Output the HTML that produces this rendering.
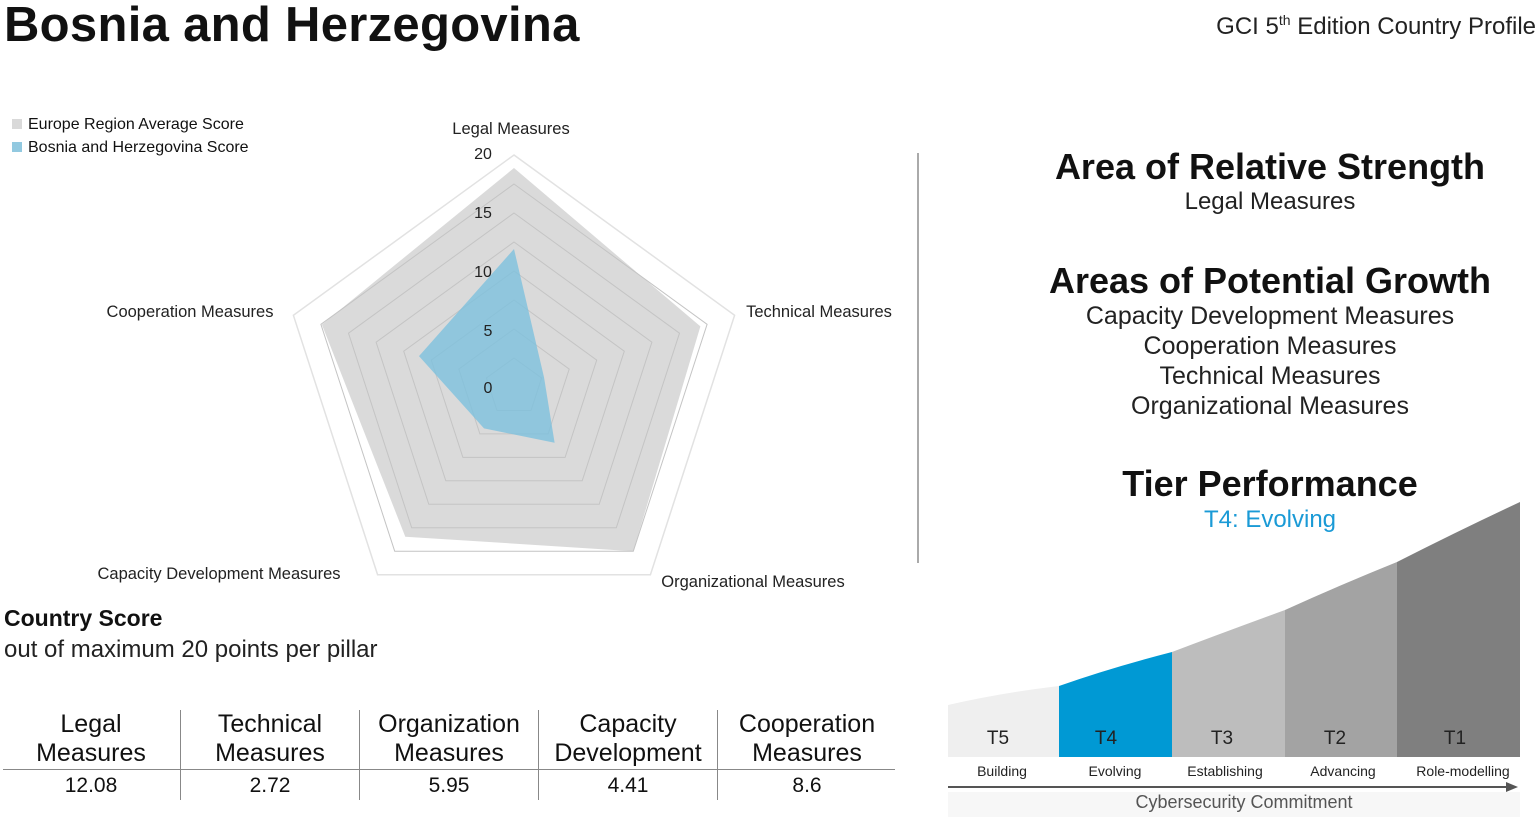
<!DOCTYPE html>
<html><head><meta charset="utf-8"><style>
body{margin:0;width:1540px;height:817px;background:#fff;font-family:"Liberation Sans",sans-serif;color:#111;overflow:hidden;position:relative}
.a{position:absolute;white-space:nowrap}
.c{text-align:center}
</style></head><body>
<div class="a" style="left:4px;top:-3px;font-size:49px;font-weight:bold;letter-spacing:0.3px">Bosnia and Herzegovina</div>
<div class="a" style="right:4px;top:12px;font-size:24px;color:#222">GCI 5<sup style="font-size:14px">th</sup> Edition Country Profile</div>

<div class="a" style="left:12px;top:116px;font-size:16px"><span style="display:inline-block;width:10px;height:10px;background:#d9d9d9;margin-right:6px"></span>Europe Region Average Score</div>
<div class="a" style="left:12px;top:139px;font-size:16px"><span style="display:inline-block;width:10px;height:10px;background:#92c9e0;margin-right:6px"></span>Bosnia and Herzegovina Score</div>

<svg class="a" style="left:0;top:0" width="920" height="600" viewBox="0 0 920 600">
<g transform="translate(514,387)">
<polygon points="0,-232 220.6,-71.7 136.4,187.7 -136.4,187.7 -220.6,-71.7" fill="#fff" stroke="#e2e2e2" stroke-width="1.5"/>
<polygon points="0,-219 186.4,-60.6 119.3,164.2 -108.7,149.7 -192.1,-62.4" fill="#dadada"/>
<g fill="none" stroke="#c4c4c4" stroke-width="1">
<polygon points="0,-203 193.1,-62.7 119.3,164.2 -119.3,164.2 -193.1,-62.7"/>
<polygon points="0,-174 165.5,-53.8 102.3,140.8 -102.3,140.8 -165.5,-53.8"/>
<polygon points="0,-145 137.9,-44.8 85.2,117.3 -85.2,117.3 -137.9,-44.8"/>
<polygon points="0,-116 110.3,-35.8 68.2,93.8 -68.2,93.8 -110.3,-35.8"/>
<polygon points="0,-87 82.7,-26.9 51.1,70.4 -51.1,70.4 -82.7,-26.9"/>
<polygon points="0,-58 55.2,-17.9 34.1,46.9 -34.1,46.9 -55.2,-17.9"/>
<polygon points="0,-29 27.6,-9 17,23.5 -17,23.5 -27.6,-9"/>
</g>
<polygon points="0,-138 30,-9.8 40.6,55.8 -30,41.4 -95,-30.9" fill="#7dc0dd" fill-opacity="0.8"/>
</g>
<g font-size="16" font-family="Liberation Sans,sans-serif" fill="#222" text-anchor="middle">
<text x="483" y="159">20</text><text x="483" y="218">15</text><text x="483" y="277">10</text><text x="488" y="336">5</text><text x="488" y="393">0</text>
<text x="511" y="134" font-size="16.5">Legal Measures</text>
<text x="819" y="317" font-size="16.5">Technical Measures</text>
<text x="753" y="587" font-size="16.5">Organizational Measures</text>
<text x="219" y="579" font-size="16.5">Capacity Development Measures</text>
<text x="190" y="317" font-size="16.5">Cooperation Measures</text>
</g>
</svg>

<div class="a" style="left:4px;top:605px;font-size:23px;font-weight:bold">Country Score</div>
<div class="a" style="left:4px;top:636px;font-size:24px;color:#222">out of maximum 20 points per pillar</div>

<div class="a" style="left:3px;top:769px;width:892px;height:1px;background:#888"></div>
<div class="a" style="left:180px;top:710px;width:1px;height:90px;background:#888"></div>
<div class="a" style="left:359px;top:710px;width:1px;height:90px;background:#888"></div>
<div class="a" style="left:538px;top:710px;width:1px;height:90px;background:#888"></div>
<div class="a" style="left:717px;top:710px;width:1px;height:90px;background:#888"></div>
<div class="a c" style="left:2px;width:178px;top:710px;font-size:25px;line-height:29px">Legal<br>Measures</div>
<div class="a c" style="left:181px;width:178px;top:710px;font-size:25px;line-height:29px">Technical<br>Measures</div>
<div class="a c" style="left:360px;width:178px;top:710px;font-size:25px;line-height:29px">Organization<br>Measures</div>
<div class="a c" style="left:539px;width:178px;top:710px;font-size:25px;line-height:29px">Capacity<br>Development</div>
<div class="a c" style="left:718px;width:178px;top:710px;font-size:25px;line-height:29px">Cooperation<br>Measures</div>
<div class="a c" style="left:2px;width:178px;top:774px;font-size:21px">12.08</div>
<div class="a c" style="left:181px;width:178px;top:774px;font-size:21px">2.72</div>
<div class="a c" style="left:360px;width:178px;top:774px;font-size:21px">5.95</div>
<div class="a c" style="left:539px;width:178px;top:774px;font-size:21px">4.41</div>
<div class="a c" style="left:718px;width:178px;top:774px;font-size:21px">8.6</div>

<div class="a" style="left:917px;top:153px;width:2px;height:410px;background:#aaa"></div>

<div class="a c" style="left:1000px;width:540px;top:146px;font-size:36px;font-weight:bold">Area of Relative Strength</div>
<div class="a c" style="left:1000px;width:540px;top:188px;font-size:24px;color:#222">Legal Measures</div>
<div class="a c" style="left:1000px;width:540px;top:260px;font-size:36px;font-weight:bold">Areas of Potential Growth</div>
<div class="a c" style="left:1000px;width:540px;top:301px;font-size:25px;color:#222;line-height:30px">Capacity Development Measures<br>Cooperation Measures<br>Technical Measures<br>Organizational Measures</div>
<div class="a c" style="left:1000px;width:540px;top:463px;font-size:36px;font-weight:bold">Tier Performance</div>
<div class="a c" style="left:1000px;width:540px;top:506px;font-size:24px;color:#1a9ad6">T4: Evolving</div>

<svg class="a" style="left:940px;top:495px" width="600" height="322" viewBox="940 495 600 322">
<rect x="948" y="792" width="572" height="25" fill="#f7f7f7"/>
<path d="M948,705 Q1000,693 1059,686 L1059,757 L948,757Z" fill="#efefef"/>
<path d="M1059,686 Q1110,668 1172,652 L1172,757 L1059,757Z" fill="#0099d4"/>
<path d="M1172,652 Q1230,630 1285,610 L1285,757 L1172,757Z" fill="#bdbdbd"/>
<path d="M1285,610 Q1340,585 1397,562 L1397,757 L1285,757Z" fill="#a3a3a3"/>
<path d="M1397,562 Q1460,530 1520,502 L1520,757 L1397,757Z" fill="#7f7f7f"/>
<g font-family="Liberation Sans,sans-serif" font-size="19" fill="#222" text-anchor="middle">
<text x="998" y="744">T5</text><text x="1106" y="744">T4</text><text x="1222" y="744">T3</text><text x="1335" y="744">T2</text><text x="1455" y="744">T1</text>
</g>
<g font-family="Liberation Sans,sans-serif" font-size="14" fill="#222" text-anchor="middle">
<text x="1002" y="776">Building</text><text x="1115" y="776">Evolving</text><text x="1225" y="776">Establishing</text><text x="1343" y="776">Advancing</text><text x="1463" y="776">Role-modelling</text>
</g>
<line x1="948" y1="787" x2="1508" y2="787" stroke="#555" stroke-width="2"/>
<polygon points="1518,787 1506,782 1506,792" fill="#555"/>
<text x="1244" y="808" font-family="Liberation Sans,sans-serif" font-size="18" fill="#555" text-anchor="middle">Cybersecurity Commitment</text>
</svg>
</body></html>
